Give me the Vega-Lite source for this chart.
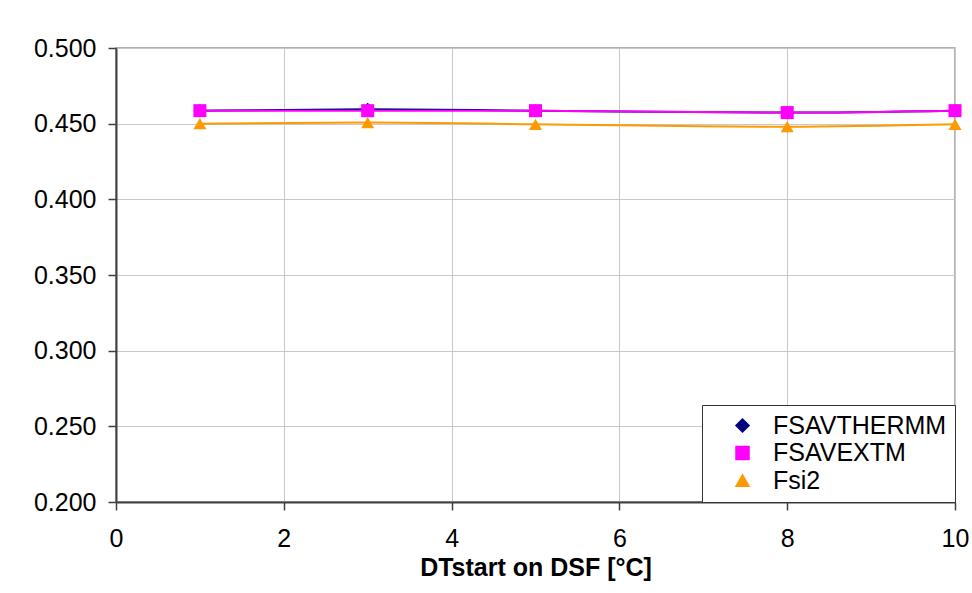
{
  "$schema": "https://vega.github.io/schema/vega-lite/v6.json",
  "width": 839,
  "height": 454,
  "autosize": {"type": "none"},
  "padding": {"left": 116, "top": 48, "right": 17, "bottom": 91},
  "background": "white",
  "config": {
    "font": "Liberation Sans",
    "view": {"stroke": "#999999", "strokeWidth": 1.5},
    "axis": {
      "labelFont": "Liberation Sans",
      "labelFontSize": 25,
      "labelColor": "black",
      "titleFont": "Liberation Sans",
      "titleColor": "black",
      "gridColor": "#c8c8c8",
      "gridWidth": 1,
      "domainColor": "#404040",
      "domainWidth": 2,
      "tickColor": "#404040",
      "tickWidth": 1.5,
      "tickSize": 8
    }
  },
  "data": {
    "values": [
      {"x": 1, "series": "FSAVTHERMM", "y": 0.4586},
      {"x": 3, "series": "FSAVTHERMM", "y": 0.4595},
      {"x": 5, "series": "FSAVTHERMM", "y": 0.4586},
      {"x": 8, "series": "FSAVTHERMM", "y": 0.4573},
      {"x": 10, "series": "FSAVTHERMM", "y": 0.4586},
      {"x": 1, "series": "FSAVEXTM", "y": 0.4586},
      {"x": 3, "series": "FSAVEXTM", "y": 0.4586},
      {"x": 5, "series": "FSAVEXTM", "y": 0.4586},
      {"x": 8, "series": "FSAVEXTM", "y": 0.4573},
      {"x": 10, "series": "FSAVEXTM", "y": 0.4586},
      {"x": 1, "series": "Fsi2", "y": 0.4500},
      {"x": 3, "series": "Fsi2", "y": 0.4507},
      {"x": 5, "series": "Fsi2", "y": 0.4496},
      {"x": 8, "series": "Fsi2", "y": 0.4480},
      {"x": 10, "series": "Fsi2", "y": 0.4496}
    ]
  },
  "encoding": {
    "x": {
      "field": "x", "type": "quantitative",
      "scale": {"domain": [0, 10], "nice": false},
      "axis": {
        "values": [0, 2, 4, 6, 8, 10],
        "title": "DTstart on DSF [°C]",
        "titleFontSize": 25,
        "titleFontWeight": "bold",
        "titlePadding": 4,
        "labelPadding": 16,
        "labelFlush": false
      }
    },
    "y": {
      "field": "y", "type": "quantitative",
      "scale": {"domain": [0.2, 0.5], "nice": false, "zero": false},
      "axis": {
        "values": [0.2, 0.25, 0.3, 0.35, 0.4, 0.45, 0.5],
        "format": ".3f",
        "title": null,
        "labelPadding": 12
      }
    },
    "color": {
      "field": "series", "type": "nominal",
      "scale": {
        "domain": ["FSAVTHERMM", "FSAVEXTM", "Fsi2"],
        "range": ["#000080", "#ff00ff", "#ff9900"]
      },
      "legend": {
        "title": null,
        "orient": "bottom-right",
        "offset": 0,
        "padding": 8,
        "fillColor": "white",
        "strokeColor": "#333333",
        "labelFont": "Liberation Sans",
        "labelFontSize": 25,
        "labelColor": "black",
        "labelLimit": 400,
        "labelExpr": "datum.label + '\u00a0\u00a0\u00a0'",
        "symbolSize": 180,
        "symbolOffset": 20,
        "labelOffset": 18,
        "rowPadding": 1.5
      }
    }
  },
  "layer": [
    {
      "mark": {"type": "line", "interpolate": "monotone", "strokeWidth": 2}
    },
    {
      "mark": {"type": "point", "filled": true, "opacity": 1},
      "encoding": {
        "shape": {
          "field": "series", "type": "nominal",
          "scale": {"domain": ["FSAVTHERMM", "FSAVEXTM", "Fsi2"], "range": ["diamond", "square", "triangle-up"]},
          "legend": null
        },
        "size": {
          "field": "series", "type": "nominal",
          "scale": {"domain": ["FSAVTHERMM", "FSAVEXTM", "Fsi2"], "range": [170, 169, 196]},
          "legend": null
        }
      }
    }
  ]
}
